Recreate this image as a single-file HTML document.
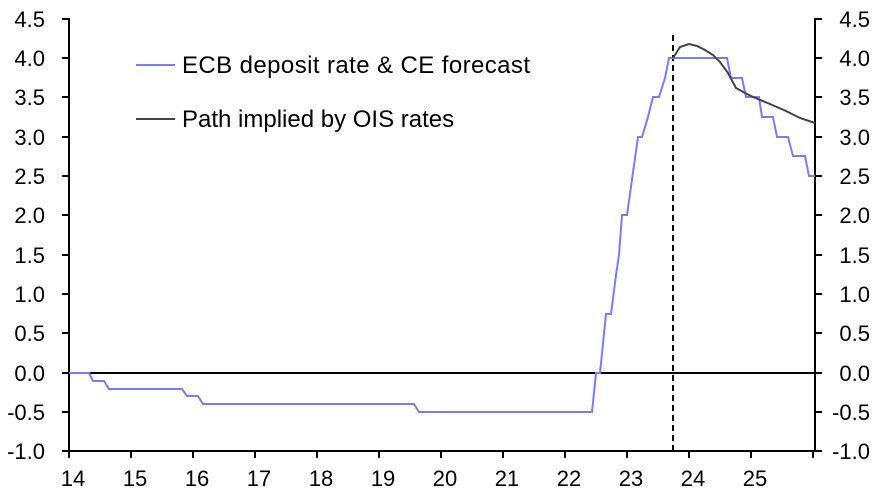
<!DOCTYPE html><html><head><style>body{margin:0;background:#fff}</style></head><body>
<svg width="886" height="497" xmlns="http://www.w3.org/2000/svg" font-family="Liberation Sans, sans-serif" font-size="22">
<g stroke="#000" stroke-width="2" fill="none">
<line x1="69" y1="18" x2="69" y2="452"/><line x1="815" y1="18" x2="815" y2="452"/>
<line x1="68" y1="451" x2="816" y2="451"/>
<line x1="69" y1="373" x2="815" y2="373"/>
</g>
<g stroke="#000" stroke-width="2">
<line x1="62" x2="69" y1="19" y2="19"/><line x1="62" x2="69" y1="58" y2="58"/><line x1="62" x2="69" y1="97" y2="97"/><line x1="62" x2="69" y1="137" y2="137"/><line x1="62" x2="69" y1="176" y2="176"/><line x1="62" x2="69" y1="215" y2="215"/><line x1="62" x2="69" y1="255" y2="255"/><line x1="62" x2="69" y1="294" y2="294"/><line x1="62" x2="69" y1="333" y2="333"/><line x1="62" x2="69" y1="373" y2="373"/><line x1="62" x2="69" y1="412" y2="412"/><line x1="62" x2="69" y1="451" y2="451"/>
<line x1="815" x2="822" y1="19" y2="19"/><line x1="815" x2="822" y1="58" y2="58"/><line x1="815" x2="822" y1="97" y2="97"/><line x1="815" x2="822" y1="137" y2="137"/><line x1="815" x2="822" y1="176" y2="176"/><line x1="815" x2="822" y1="215" y2="215"/><line x1="815" x2="822" y1="255" y2="255"/><line x1="815" x2="822" y1="294" y2="294"/><line x1="815" x2="822" y1="333" y2="333"/><line x1="815" x2="822" y1="373" y2="373"/><line x1="815" x2="822" y1="412" y2="412"/><line x1="815" x2="822" y1="451" y2="451"/>
<line x1="69" x2="69" y1="451" y2="458"/><line x1="131" x2="131" y1="451" y2="458"/><line x1="193" x2="193" y1="451" y2="458"/><line x1="255" x2="255" y1="451" y2="458"/><line x1="317" x2="317" y1="451" y2="458"/><line x1="379" x2="379" y1="451" y2="458"/><line x1="441" x2="441" y1="451" y2="458"/><line x1="503" x2="503" y1="451" y2="458"/><line x1="565" x2="565" y1="451" y2="458"/><line x1="627" x2="627" y1="451" y2="458"/><line x1="689" x2="689" y1="451" y2="458"/><line x1="751" x2="751" y1="451" y2="458"/><line x1="813" x2="813" y1="451" y2="458"/>
</g>
<g text-anchor="end">
<text x="45" y="27">4.5</text><text x="45" y="66">4.0</text><text x="45" y="105">3.5</text><text x="45" y="145">3.0</text><text x="45" y="184">2.5</text><text x="45" y="223">2.0</text><text x="45" y="263">1.5</text><text x="45" y="302">1.0</text><text x="45" y="341">0.5</text><text x="45" y="381">0.0</text><text x="45" y="420">-0.5</text><text x="45" y="459">-1.0</text>
</g>
<g text-anchor="end">
<text x="870" y="27">4.5</text><text x="870" y="66">4.0</text><text x="870" y="105">3.5</text><text x="870" y="145">3.0</text><text x="870" y="184">2.5</text><text x="870" y="223">2.0</text><text x="870" y="263">1.5</text><text x="870" y="302">1.0</text><text x="870" y="341">0.5</text><text x="870" y="381">0.0</text><text x="870" y="420">-0.5</text><text x="870" y="459">-1.0</text>
</g>
<g text-anchor="middle">
<text x="73" y="486">14</text><text x="135" y="486">15</text><text x="197" y="486">16</text><text x="259" y="486">17</text><text x="321" y="486">18</text><text x="383" y="486">19</text><text x="445" y="486">20</text><text x="507" y="486">21</text><text x="569" y="486">22</text><text x="631" y="486">23</text><text x="693" y="486">24</text><text x="755" y="486">25</text>
</g>
<line x1="673" y1="35" x2="673" y2="451" stroke="#000" stroke-width="2" stroke-dasharray="6,4"/>
<polyline fill="none" stroke="#7b7bff" stroke-width="2" points="69,373 89,373 93,381 104,381 109,389 182,389 187,396 198,396 203,404 414,404 419,412 592,412 596,373 600,373 606,314 611,314 616,275 619,255 622,215 627,215 638,137 642,137 648,117 653,97 659,97 665,78 669,58 727,58 731,78 742,78 746,97 759,97 762,117 773,117 777,137 788,137 793,156 805,156 809,176 815,176"/>
<polyline fill="none" stroke="#444" stroke-width="2" points="673,58 680,47 689,44 697,46 705,50 713,55 720,62 728,73 736,88 745,93 753,97 770,104 786,111 800,118 815,123"/>
<line x1="136" y1="65" x2="175" y2="65" stroke="#7b7bff" stroke-width="2"/>
<text x="182" y="73" font-size="24" textLength="348">ECB deposit rate &amp; CE forecast</text>
<line x1="136" y1="119" x2="175" y2="119" stroke="#444" stroke-width="2"/>
<text x="182" y="127" font-size="24">Path implied by OIS rates</text>
</svg></body></html>
